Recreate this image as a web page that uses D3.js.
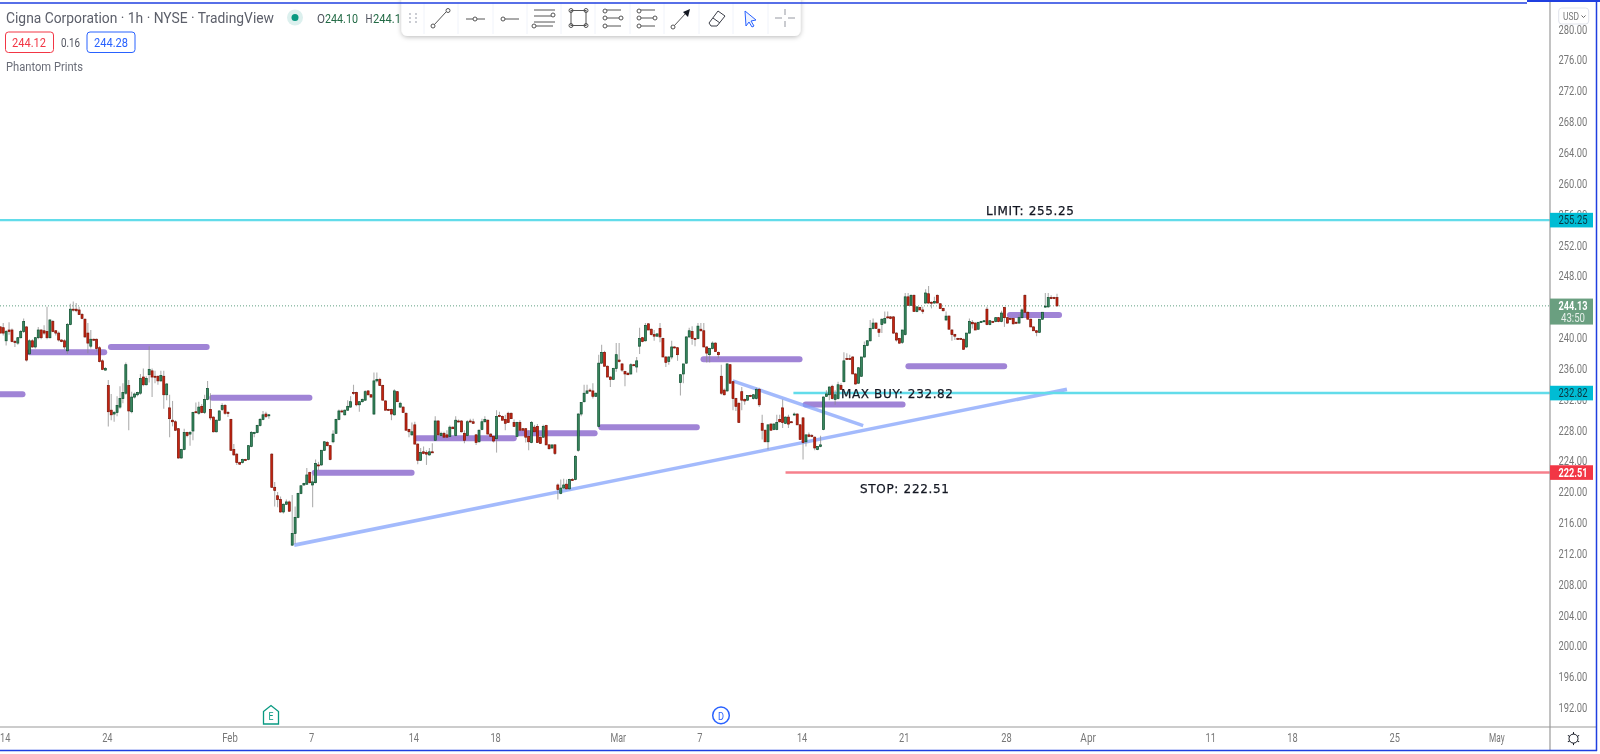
<!DOCTYPE html>
<html>
<head>
<meta charset="utf-8">
<title>Cigna Corporation 1h</title>
<script src="https://cdn.jsdelivr.net/npm/d3@7"></script>
<style>
  html, body { margin: 0; padding: 0; background: #fff; overflow: hidden; }
  svg { display: block; font-family: Roboto, "Liberation Sans", sans-serif; filter: blur(0.3px); }
</style>
</head>
<body>
<svg width="1600" height="754"></svg>
<script>
// open, high, low, close
const janBars = [
[241.4,241.5,240.6,240.6],[241.3,241.9,240.3,240.6],[239.6,241.0,239.0,240.8],[241.0,242.0,240.4,240.8],[241.0,241.2,239.4,239.5],[239.5,239.7,238.8,239.4],[239.3,240.1,239.1,240.0],[240.0,241.0,239.9,240.8],[240.8,242.5,240.6,242.1],[241.4,241.5,236.9,237.1],
[237.9,239.8,237.8,239.6],[239.6,239.8,238.7,238.8],[238.8,240.1,238.6,240.0],[240.0,241.4,239.8,241.0],[241.0,241.1,239.8,240.0],[240.9,241.6,240.4,240.6],[240.8,244.0,239.8,240.0],[240.0,242.4,239.9,242.3],[242.1,242.3,240.7,240.8],[240.9,241.0,240.3,240.6],
[240.6,240.8,239.5,239.7],[239.7,239.8,239.4,239.5],[239.6,239.8,238.5,238.8],[238.3,241.9,237.9,241.7],[241.7,244.4,241.6,243.7],[243.7,244.7,243.4,243.6],[243.7,244.5,243.3,243.5],[243.6,244.0,243.0,243.0],[243.0,243.2,242.4,242.5],[242.4,242.5,240.0,240.1],
[240.6,241.9,238.0,239.3],[238.9,241.0,238.6,239.8],[239.8,239.9,239.6,239.7],[239.8,239.9,238.2,238.6],[238.7,238.9,236.8,236.9],[237.0,237.2,235.8,235.9],[235.8,236.2,235.7,236.0],[233.8,234.5,228.5,230.4],[230.6,232.7,229.3,230.0],[230.1,230.5,229.1,230.3],
[230.3,232.4,229.8,231.2],[231.0,233.7,230.8,232.1],[232.1,234.1,231.5,232.9],[232.8,236.8,232.6,236.5],[233.8,234.5,228.0,230.5],[230.4,233.0,230.2,232.3],[232.3,232.9,232.1,232.7],[232.6,233.0,232.4,232.9],[232.8,235.3,232.6,234.7],[234.9,236.0,233.7,233.9],
[233.9,235.0,233.8,234.7],[235.2,238.9,234.2,235.9],[235.7,236.0,232.3,234.9],[235.0,235.7,234.1,234.9],[235.0,235.1,233.9,234.4],[234.4,235.7,234.3,235.1],[235.0,235.7,230.8,232.6],[232.6,234.1,231.9,234.0],[230.9,232.6,227.1,229.5],[229.3,231.8,228.5,229.1],
[229.1,229.3,227.9,228.0],[228.2,228.3,224.3,224.4],[224.4,225.6,224.3,225.5],[225.5,228.2,225.4,227.7],[227.7,227.8,227.1,227.3],[227.5,227.9,226.0,227.7],[227.9,230.4,226.7,230.3],[230.4,231.6,230.2,230.3],[230.2,231.7,230.0,231.0],[231.1,231.4,230.2,230.3],
[230.3,232.6,230.1,232.0],[232.0,234.4,231.9,233.4],[230.7,232.8,229.3,229.6],[229.7,229.8,227.7,227.8],[227.8,229.4,227.7,229.3],[229.3,230.6,229.2,230.5],[230.7,231.5,230.5,231.2],[231.2,231.4,230.0,230.2]
];
const febBars = [
[230.3,230.5,229.7,230.2],[229.4,229.5,225.3,225.4],[225.5,226.2,224.7,224.8],[224.9,225.0,223.5,223.8],[223.8,223.9,223.5,223.6],[223.8,224.3,223.7,224.2],[224.2,224.3,224.0,224.1],[224.2,226.1,224.1,226.0],[225.9,227.9,225.8,227.7],[227.6,227.8,227.1,227.7],
[227.7,228.7,227.6,228.6],[228.6,229.6,228.5,229.4],[229.4,230.5,229.3,230.0],[230.1,230.4,229.6,229.8],[229.9,230.1,229.5,230.0],[224.9,225.0,220.5,220.6],[220.6,221.3,218.1,220.2],[219.5,220.0,218.0,219.0],[219.0,219.4,217.3,217.4],[217.4,218.5,217.2,218.4],
[218.4,219.0,218.3,218.7],[218.7,218.9,217.4,217.5],[213.1,219.6,213.0,214.6],[214.6,218.1,213.3,216.7],[216.7,219.9,216.6,219.8],[219.8,220.8,219.7,220.8],[220.9,221.2,220.8,221.1],[221.0,223.1,220.9,222.2],[222.5,222.6,221.1,221.2],[220.9,222.2,218.0,221.3],
[221.2,224.2,221.1,223.7],[223.5,223.9,222.8,223.4],[223.5,225.4,223.4,225.4],[225.4,226.6,225.3,226.5],[226.4,226.6,225.9,226.0],[226.0,226.1,224.1,224.2],[226.5,228.0,226.3,227.5],[227.6,229.5,227.5,229.4],[229.4,230.7,229.3,230.5],[230.5,230.7,230.3,230.4],
[230.0,230.7,229.9,230.6],[230.6,231.9,230.5,231.1],[231.0,232.4,230.9,231.7],[232.9,233.9,232.6,232.8],[232.9,233.0,231.1,231.3],[231.3,231.8,230.4,231.7],[231.7,232.1,231.6,232.0],[231.9,233.2,231.8,233.0],[233.1,233.2,232.5,232.6],[232.6,232.7,232.2,232.3],
[230.1,235.5,230.0,234.4],[234.4,235.5,234.2,234.6],[234.6,234.8,233.8,233.8],[233.8,233.9,231.9,231.9],[231.8,231.9,230.6,230.6],[230.7,230.8,230.5,230.6],[230.7,230.8,229.3,230.1],[230.0,233.3,229.9,233.1],[233.0,233.1,231.7,231.7],[231.0,231.7,230.9,231.5],
[231.0,231.1,230.3,230.3],[230.2,230.3,228.0,228.0],[228.1,228.2,227.1,227.8],[227.4,229.0,227.3,227.8],[228.7,229.1,226.2,226.2],[226.2,226.3,223.6,224.1],[224.1,225.7,224.0,225.1],[225.2,225.9,224.9,225.0],[225.1,225.4,223.5,224.9],[224.8,225.7,224.7,225.2],
[225.2,226.3,225.1,225.1],[226.7,229.8,226.6,229.2],[229.2,229.3,227.3,227.4],[227.3,227.8,227.2,227.6],[227.6,227.8,227.0,227.1],[227.4,228.0,227.0,227.1],[227.2,228.6,227.1,228.4],[228.4,228.5,228.2,228.2],[227.3,229.8,227.2,229.3],[229.2,229.4,229.0,229.1],
[229.2,229.3,227.7,227.8],[227.6,228.0,226.3,226.7],[227.3,229.3,227.2,229.1],[229.2,229.5,229.0,229.1],[229.1,229.5,228.8,228.9],[227.4,227.5,226.1,226.4],[226.5,228.1,226.4,228.0],[228.1,229.5,228.0,229.1],[229.1,229.8,229.0,229.4],[229.3,229.4,227.5,227.5],
[227.5,227.6,227.1,227.2],[227.2,227.3,226.4,226.6],[226.9,230.6,225.1,229.8],[229.9,230.4,229.7,229.8],[229.8,229.9,229.3,229.3],[229.4,230.0,228.0,228.9],[230.2,230.4,229.0,229.0],[230.2,230.3,229.5,229.5],[229.0,229.4,228.5,228.5],[227.2,229.1,227.1,229.0],
[229.0,229.3,228.0,228.0],[228.2,228.3,228.0,228.0],[228.2,228.3,226.4,227.1],[227.2,228.0,225.4,226.5],[226.4,229.2,226.3,229.0],[228.4,228.7,227.8,227.8],[228.5,228.8,226.4,226.4],[227.1,227.2,226.2,226.3],[227.1,228.7,227.0,228.5],[228.6,228.7,226.1,226.1],
[226.1,226.2,225.5,225.6],[225.7,226.1,225.6,226.1],[226.1,226.2,224.8,225.0],[220.9,221.1,219.0,220.3],[219.8,221.6,219.7,220.5],[220.5,221.7,220.4,220.9],[221.0,221.6,220.3,220.4],[220.4,221.7,220.3,221.6],[221.6,221.8,221.4,221.5],[221.6,224.8,221.5,224.6],
[225.4,230.2,225.2,230.1],[230.1,231.6,229.8,231.6],[231.7,233.9,231.6,232.8],[232.8,233.9,232.7,233.1],[233.2,233.4,233.0,233.1],[233.1,234.1,232.1,232.4],[232.4,232.9,232.3,232.8],[228.5,237.8,228.4,236.7],[236.7,239.1,236.6,238.1],[238.1,238.3,236.3,236.3]
];
const marBars = [
[236.3,236.4,234.9,234.9],[234.9,235.0,233.6,234.6],[234.6,236.1,234.5,236.0],[236.0,239.3,235.6,237.8],[237.1,239.3,236.8,236.9],[236.6,236.7,235.6,235.8],[235.6,235.7,233.7,235.3],[235.4,235.5,235.2,235.2],[235.3,236.7,235.2,236.5],[236.5,236.6,236.3,236.4],
[236.2,237.5,235.5,237.0],[238.9,241.3,237.9,239.9],[240.0,240.1,239.4,239.5],[239.6,241.9,239.5,241.6],[241.8,241.9,241.0,241.0],[241.1,241.2,240.3,240.4],[240.4,241.0,239.6,240.2],[240.2,240.5,240.1,240.5],[241.2,241.9,239.4,240.1],[239.9,240.0,237.5,237.5],
[237.5,237.6,236.2,236.8],[236.9,237.6,236.5,237.5],[237.5,239.6,237.2,238.8],[238.8,238.9,238.6,238.7],[238.7,238.8,237.0,237.8],[234.2,235.3,232.5,235.2],[235.3,236.6,234.1,236.6],[236.7,240.2,236.6,240.1],[240.1,241.3,240.0,240.9],[240.8,241.5,239.1,239.9],
[239.9,240.0,238.9,239.8],[239.9,241.9,239.8,241.5],[241.1,241.9,240.8,240.9],[240.9,241.9,238.8,238.8],[238.8,238.9,236.8,238.0],[237.8,238.7,236.8,238.6],[238.6,239.5,238.5,239.3],[239.3,239.4,238.2,238.2],[238.1,238.2,237.3,237.8],[235.0,236.5,232.6,232.8],
[233.2,233.4,232.5,232.6],[233.1,236.7,233.0,236.6],[236.5,236.6,234.0,234.1],[234.3,234.4,230.6,232.1],[232.1,232.2,230.5,231.1],[231.5,231.6,229.0,229.0],[233.0,233.6,230.6,231.9],[232.0,232.1,231.3,231.8],[231.9,232.5,231.8,232.5],[232.5,232.6,232.4,232.4],
[232.1,232.7,232.0,232.6],[232.1,233.5,232.0,233.3],[233.3,233.5,231.0,231.3],[228.9,230.0,226.8,228.0],[228.0,228.1,226.5,226.5],[226.5,228.7,225.5,228.7],[228.8,228.9,228.0,228.0],[228.1,228.9,228.0,228.8],[228.1,230.0,228.0,229.0],[229.4,230.0,229.0,229.1],
[230.9,232.0,228.3,229.0],[228.9,229.8,228.8,229.7],[229.7,230.0,228.3,228.8],[229.1,229.2,229.0,229.0],[230.0,230.3,229.9,230.1],[230.1,230.2,228.7,228.7],[228.7,228.8,226.8,226.8],[229.6,229.7,224.2,226.4],[226.5,227.4,225.9,227.4],[227.4,227.7,227.1,227.2],
[227.3,227.5,227.1,227.2],[227.1,227.2,225.4,225.7],[225.5,225.9,225.4,225.9],[225.9,227.3,225.8,226.1],[228.1,232.4,228.0,232.3],[232.4,233.2,232.3,232.7],[232.6,233.7,231.9,233.6],[233.7,233.9,232.0,232.1],[232.0,233.2,231.3,232.6],[232.1,234.3,232.0,233.9],
[233.8,234.1,233.3,233.3],[234.3,238.1,234.2,237.0],[237.3,238.0,237.1,237.2],[237.3,237.8,237.1,237.2],[237.5,237.6,235.3,235.3],[235.3,235.4,233.9,234.0],[234.1,236.2,234.0,236.1],[235.0,237.5,234.9,237.5],[237.5,239.5,237.4,239.0],[239.0,239.7,238.9,239.6],
[239.6,242.3,239.5,241.2],[241.2,242.5,241.1,241.9],[241.9,242.0,241.2,241.2],[241.1,241.2,240.1,240.7],[241.7,242.5,240.6,242.4],[241.9,243.4,241.8,242.5],[242.7,243.4,242.5,242.6],[242.7,242.8,242.4,242.5],[242.7,242.8,240.5,240.6],[240.6,240.7,239.5,239.7],
[239.9,240.0,239.2,239.3],[239.4,241.0,239.2,241.0],[240.4,245.8,240.3,245.3],[245.3,245.8,244.2,244.2],[244.2,245.6,244.1,245.5],[245.5,245.6,243.4,243.4],[243.4,244.0,243.3,244.0],[243.9,244.0,243.6,243.6],[243.6,244.0,243.1,243.4],[244.5,246.3,244.4,245.8],
[245.7,246.7,244.4,244.5],[244.6,244.7,243.8,244.5],[244.5,245.3,244.4,244.7],[245.5,245.6,244.5,244.5],[244.4,244.5,243.8,243.8],[243.8,243.9,243.4,243.5],[242.3,243.4,242.2,242.8],[242.8,242.9,241.1,241.1],[241.0,241.1,239.6,240.4],[240.4,240.5,239.7,240.2],
[239.9,240.0,239.7,239.8],[239.9,240.0,239.7,239.8],[239.8,239.9,238.4,238.5],[238.8,240.6,238.7,240.6],[240.6,242.5,240.5,242.1],[242.0,242.3,241.2,241.8],[241.9,242.0,241.0,241.0],[241.1,242.0,241.0,242.0],[242.0,242.2,241.9,242.1],[242.1,242.3,242.0,242.2],
[243.7,244.0,241.6,241.7],[241.7,242.3,241.6,242.2],[242.1,242.2,242.0,242.0],[242.1,242.7,242.0,242.6],[242.6,242.7,242.0,242.1],[242.1,243.5,242.0,243.2],[243.9,244.0,241.4,242.6],[242.6,242.7,241.8,241.9],[242.5,242.6,242.3,242.4],[242.5,242.6,241.7,241.8],
[242.0,242.1,241.8,241.9],[241.9,243.0,241.8,242.6],[242.6,243.8,242.5,243.6],[245.5,245.6,243.2,243.3],[243.3,243.4,242.4,242.4],[242.4,242.5,241.4,241.4],[241.4,241.5,240.9,240.9],[240.9,241.0,240.2,240.7],[240.7,242.4,240.6,242.4],[242.4,243.3,242.3,243.3],
[244.0,245.8,243.9,244.1],[244.0,245.8,243.9,245.2],[245.2,245.5,245.0,245.1],[245.2,245.3,245.0,245.1],[245.2,245.7,244.0,244.13]
];
const bars = [...janBars, ...febBars, ...marBars];

// [first bar, last bar, price]
const supplyZones = [
  [-1, 7.6, 232.66], [10, 35.6, 238.1], [37.9, 70.7, 238.8], [72.6, 105.9, 232.2],
  [107.7, 140.9, 222.5], [142.7, 175.9, 226.95], [177.7, 203.6, 227.6], [205.9, 238.6, 228.4],
  [240.9, 273.8, 237.2], [275.9, 309.1, 231.35], [311.1, 343.9, 236.3], [345.9, 362.7, 242.95]
];
// [bar, price, bar, price]
const trendLines = [
  [100.7, 213.1, 365.4, 233.3],
  [250.9, 234.4, 295.6, 228.6]
];
const limitPrice = 255.25, maxBuyPrice = 232.82, stopPrice = 222.51, lastPrice = 244.13;
const maxBuyStart = 271.7, stopStart = 269;

// 244.00 sits fully under the last price badge
const priceTicks = d3.range(192, 281, 4).filter(d => d !== 244);
const timeTickBars = [1.5, 36.5, 78.5, 106.5, 141.5, 169.5, 211.5, 239.5, 274.5, 309.5, 344.5, 372.5, 414.5, 442.5, 477.5, 512.5];
const timeLabels = ["14", "24", "Feb", "7", "14", "18", "Mar", "7", "14", "21", "28", "Apr", "11", "18", "25", "May"];

const svg = d3.select("svg");
const w = 1600, h = 754;
const axisX = 1550, axisY = 727;

const x = d3.scaleLinear().domain([0, 362]).range([0.3, 1057]);
const y = d3.scaleLinear().domain([192, 280]).range([707.8, 29.3]);

svg.append("defs").append("clipPath").attr("id", "plot")
  .append("rect").attr("width", axisX).attr("height", axisY);
const shadow = svg.select("defs").append("filter").attr("id", "shadow")
  .attr("x", "-5%").attr("y", "-30%").attr("width", "110%").attr("height", "170%");
shadow.append("feDropShadow").attr("dx", 0).attr("dy", 1).attr("stdDeviation", 2.5)
  .attr("flood-color", "#000").attr("flood-opacity", 0.28);

const plot = svg.append("g").attr("clip-path", "url(#plot)");

// last price dotted line
plot.append("line")
  .attr("x1", 0).attr("x2", axisX).attr("y1", y(lastPrice)).attr("y2", y(lastPrice))
  .attr("stroke", "#5f9f80").attr("stroke-width", 1).attr("stroke-dasharray", "1 2");

// purple zones
plot.selectAll(".zone").data(supplyZones).enter().append("line")
  .attr("class", "zone")
  .attr("x1", d => x(d[0])).attr("x2", d => x(d[1]))
  .attr("y1", d => y(d[2])).attr("y2", d => y(d[2]))
  .attr("stroke", "#a084d6").attr("stroke-width", 6).attr("stroke-linecap", "round");

// trend lines
plot.selectAll(".trend").data(trendLines).enter().append("line")
  .attr("class", "trend")
  .attr("x1", d => x(d[0])).attr("y1", d => y(d[1]))
  .attr("x2", d => x(d[2])).attr("y2", d => y(d[3]))
  .attr("stroke", "#7f9ffb").attr("stroke-opacity", 0.72).attr("stroke-width", 3.6);

// price levels
const levels = [
  { from: x.invert(0), price: limitPrice, color: "#62dcea" },
  { from: maxBuyStart, price: maxBuyPrice, color: "#62dcea" },
  { from: stopStart, price: stopPrice, color: "#f6808c" }
];
plot.selectAll(".level").data(levels).enter().append("line")
  .attr("class", "level")
  .attr("x1", d => x(d.from)).attr("x2", axisX)
  .attr("y1", d => y(d.price)).attr("y2", d => y(d.price))
  .attr("stroke", d => d.color).attr("stroke-width", 2.4);

// candles
const candle = plot.selectAll(".candle").data(bars).enter().append("g").attr("class", "candle");
candle.append("line")
  .attr("x1", (d, i) => x(i)).attr("x2", (d, i) => x(i))
  .attr("y1", d => y(d[1])).attr("y2", d => y(d[2]))
  .attr("stroke", "#8d8d8d").attr("stroke-width", 1.1).attr("opacity", 0.7);
candle.append("rect")
  .attr("x", (d, i) => x(i) - 1)
  .attr("y", d => y(Math.max(d[0], d[3])))
  .attr("width", 2)
  .attr("height", d => Math.max(1, Math.abs(y(d[0]) - y(d[3]))))
  .attr("fill", d => d[3] >= d[0] ? "#39875f" : "#c62410")
  .attr("stroke", d => d[3] >= d[0] ? "#0c4f2e" : "#7d1206")
  .attr("stroke-width", 0.7);

// level notes
const notes = [
  { text: "LIMIT: 255.25", x: 986, y: 215, len: 88 },
  { text: "MAX BUY: 232.82", x: 841, y: 398, len: 112 },
  { text: "STOP: 222.51", x: 860, y: 493, len: 89 }
];
svg.selectAll(".note").data(notes).enter().append("text")
  .attr("class", "note")
  .attr("x", d => d.x).attr("y", d => d.y)
  .attr("textLength", d => d.len).attr("lengthAdjust", "spacing")
  .style("font-family", "'DejaVu Sans'").style("font-size", "12px")
  .attr("fill", "#131722").attr("stroke", "#131722").attr("stroke-width", 0.25)
  .text(d => d.text);

// axes
const yAxis = svg.append("g")
  .attr("transform", `translate(${axisX}, 0)`)
  .call(d3.axisRight(y).tickValues(priceTicks).tickFormat(d3.format(".2f")).tickSize(0).tickPadding(8.5));
yAxis.select(".domain").remove();
yAxis.selectAll("text")
  .attr("textLength", 28.7).attr("lengthAdjust", "spacingAndGlyphs")
  .style("font-size", "12px").style("font-family", "Roboto").attr("fill", "#777");

const xAxis = svg.append("g")
  .attr("transform", `translate(0, ${axisY})`)
  .call(d3.axisBottom(x).tickValues(timeTickBars).tickFormat((d, i) => timeLabels[i]).tickSize(0).tickPadding(6));
xAxis.select(".domain").remove();
xAxis.selectAll("text")
  .attr("textLength", (d, i) => timeLabels[i].length * 5.2).attr("lengthAdjust", "spacingAndGlyphs")
  .style("font-size", "12px").style("font-family", "Roboto").attr("fill", "#777");

svg.append("line").attr("x1", axisX).attr("x2", axisX).attr("y1", 0).attr("y2", 751)
  .attr("stroke", "#9a9a9a").attr("stroke-width", 1.2);
svg.append("line").attr("x1", 0).attr("x2", 1596).attr("y1", axisY).attr("y2", axisY)
  .attr("stroke", "#9a9a9a").attr("stroke-width", 1.2);

// price badges
const badges = [
  { price: limitPrice, fill: "#00bcd4", color: "#0b3640" },
  { price: maxBuyPrice, fill: "#00bcd4", color: "#0b3640" },
  { price: stopPrice, fill: "#f23645", color: "#fff" }
];
const badge = svg.selectAll(".badge").data(badges).enter().append("g").attr("class", "badge");
badge.append("rect").attr("x", axisX).attr("y", d => y(d.price) - 7.3).attr("width", 43).attr("height", 14.6).attr("fill", d => d.fill);
badge.append("text").attr("x", 1573).attr("y", d => y(d.price) + 4.2)
  .attr("text-anchor", "middle").attr("fill", d => d.color)
  .attr("textLength", 29).attr("lengthAdjust", "spacingAndGlyphs")
  .style("font-size", "12px").style("font-weight", d => d.color === "#fff" ? 700 : 400)
  .text(d => d3.format(".2f")(d.price));

svg.append("rect").attr("x", axisX).attr("y", y(lastPrice) - 7.3).attr("width", 43).attr("height", 26).attr("fill", "#6a9f80");
svg.append("text").attr("x", 1573).attr("y", y(lastPrice) + 4.2).attr("text-anchor", "middle").attr("fill", "#fff")
  .attr("textLength", 29).attr("lengthAdjust", "spacingAndGlyphs")
  .style("font-size", "12px").style("font-weight", 700).text(lastPrice.toFixed(2));
svg.append("text").attr("x", 1573).attr("y", y(lastPrice) + 16).attr("text-anchor", "middle").attr("fill", "#e6efe9")
  .attr("textLength", 24).attr("lengthAdjust", "spacingAndGlyphs")
  .style("font-size", "12px").text("43:50");

// currency button
svg.append("rect").attr("x", 1558.7).attr("y", 8).attr("width", 30).attr("height", 16).attr("rx", 3)
  .attr("fill", "#fff").attr("stroke", "#e0e3eb");
svg.append("text").attr("x", 1563).attr("y", 20).attr("fill", "#777")
  .attr("textLength", 16).attr("lengthAdjust", "spacingAndGlyphs").style("font-size", "11px").text("USD");
svg.append("path").attr("d", "M1581.5 15.5l2 2 2-2").attr("fill", "none").attr("stroke", "#666");

// header
function label(text, tx, ty, len, size, color) {
  return svg.append("text").attr("x", tx).attr("y", ty).attr("fill", color)
    .attr("textLength", len).attr("lengthAdjust", "spacingAndGlyphs")
    .style("font-size", size + "px").text(text);
}
label("Cigna Corporation · 1h · NYSE · TradingView", 6, 23, 268, 15.5, "#5d606b");
svg.append("circle").attr("cx", 295).attr("cy", 17.5).attr("r", 8).attr("fill", "#dcf0ee");
svg.append("circle").attr("cx", 295).attr("cy", 17.5).attr("r", 3.5).attr("fill", "#089981");
label("O", 317, 22.5, 8, 13.5, "#50535e");
label("244.10", 325, 22.5, 33, 13.5, "#226a45");
label("H", 365.5, 22.5, 7, 13.5, "#50535e");
label("244.1", 373, 22.5, 28, 13.5, "#226a45");

svg.append("rect").attr("x", 5.5).attr("y", 32).attr("width", 48).attr("height", 20.5).attr("rx", 3)
  .attr("fill", "#fff").attr("stroke", "#f23645");
label("244.12", 12, 47, 34, 13.5, "#f23645");
label("0.16", 61, 46.5, 19, 12, "#50535e");
svg.append("rect").attr("x", 87).attr("y", 32).attr("width", 48).attr("height", 20.5).attr("rx", 3)
  .attr("fill", "#fff").attr("stroke", "#2962ff");
label("244.28", 94, 47, 34, 13.5, "#2962ff");
label("Phantom Prints", 6, 70.5, 77, 12.5, "#6a6d78");

// drawing toolbar
svg.append("rect").attr("x", 401.5).attr("y", -6).attr("width", 399).attr("height", 42).attr("rx", 6)
  .attr("fill", "#fff").attr("filter", "url(#shadow)");
const tb = svg.append("g").attr("fill", "none").attr("stroke", "#555").attr("stroke-width", 1);
const toolGap = [424, 458, 493, 527, 561, 595, 630, 664, 699, 733, 768];
tb.selectAll(".sep").data(toolGap).enter().append("line")
  .attr("x1", d => d).attr("x2", d => d).attr("y1", 2).attr("y2", 34).attr("stroke", "#f0f3fa");
tb.selectAll(".grip").data(d3.cross([410, 416], [14, 18, 22])).enter().append("circle")
  .attr("cx", d => d[0]).attr("cy", d => d[1]).attr("r", 0.9).attr("fill", "#b2b5be").attr("stroke", "none");
function knob(cx, cy, g = tb) {
  g.append("circle").attr("cx", cx).attr("cy", cy).attr("r", 2).attr("fill", "#fff");
}
function seg(x1, y1, x2, y2, g = tb) {
  g.append("line").attr("x1", x1).attr("y1", y1).attr("x2", x2).attr("y2", y2);
}
// trend line
seg(434, 25, 446, 12); knob(433, 26); knob(448, 10.5);
// horizontal line, ray
seg(466, 19, 485, 19); knob(475, 19);
seg(502, 19, 519, 19); knob(503, 19);
// parallel levels
seg(534, 10, 555, 10); seg(534, 16, 553, 16); seg(534, 22, 555, 22); seg(536, 26, 553, 26); knob(553, 15); knob(534, 26);
// rectangle
svg.append("rect").attr("x", 571).attr("y", 10.5).attr("width", 15).attr("height", 15).attr("fill", "none").attr("stroke", "#555");
[[571, 10.5], [586, 10.5], [571, 25.5], [586, 25.5]].forEach(p => knob(p[0], p[1]));
// fib style tools
[604, 638].forEach(px => {
  seg(px, 10, px + 17, 10); seg(px, 18, px + 17, 18); seg(px, 26, px + 17, 26);
  knob(px + 1, 11); knob(px + 17, 18); knob(px + 1, 26); knob(px + 1, 18);
});
// arrow
seg(674, 26, 686, 13); knob(673, 27);
svg.append("path").attr("d", "M690 9l-2 8-5-5z").attr("fill", "#131722");
// eraser
svg.append("path").attr("d", "M709 23l9-12 7 5-8 10h-6zM713 18l7 5").attr("fill", "none").attr("stroke", "#3a3d47");
// cursor
svg.append("path").attr("d", "M745 11l1 15 3-4 3 5 2-1-3-5 5-1z").attr("fill", "#eef3ff").attr("stroke", "#2962ff");
// cross
const cross = svg.append("g").attr("stroke", "#9598a1");
seg(775, 18, 782, 18, cross); seg(788, 18, 795, 18, cross); seg(785, 9, 785, 15, cross); seg(785, 21, 785, 27, cross);

// earnings and dividend marks
svg.append("path").attr("d", "M263.5 711.5l7.5-6 7.5 6v12.5h-15z").attr("fill", "#fff").attr("stroke", "#089981").attr("stroke-width", 1.3);
svg.append("text").attr("x", 271).attr("y", 720).attr("text-anchor", "middle").attr("fill", "#089981")
  .style("font-size", "11px").attr("textLength", 5).attr("lengthAdjust", "spacingAndGlyphs").text("E");
svg.append("circle").attr("cx", 721).attr("cy", 715.4).attr("r", 8.3).attr("fill", "#fff").attr("stroke", "#2962ff").attr("stroke-width", 1.5);
svg.append("text").attr("x", 721).attr("y", 719.5).attr("text-anchor", "middle").attr("fill", "#2962ff")
  .style("font-size", "11px").attr("textLength", 6).attr("lengthAdjust", "spacingAndGlyphs").text("D");

// settings gear
const gear = svg.append("g").attr("transform", "translate(1573.5, 738.6)").attr("fill", "none").attr("stroke", "#131722");
gear.append("circle").attr("r", 4.5);
gear.selectAll("line").data(d3.range(0, 360, 60)).enter().append("line")
  .attr("y1", -4.5).attr("y2", -6.5).attr("transform", d => `rotate(${d})`);

// screen capture border
const blue = "#1f3fe0";
svg.append("line").attr("x1", 0).attr("x2", 1527).attr("y1", 3).attr("y2", 3).attr("stroke", blue).attr("stroke-width", 1.5);
svg.append("line").attr("x1", 1527).attr("x2", w).attr("y1", 1).attr("y2", 1).attr("stroke", blue).attr("stroke-width", 2);
svg.append("line").attr("x1", 1596.5).attr("x2", 1596.5).attr("y1", 1).attr("y2", 751).attr("stroke", blue).attr("stroke-width", 1.5);
svg.append("line").attr("x1", 0).attr("x2", 1597).attr("y1", 750.5).attr("y2", 750.5).attr("stroke", blue).attr("stroke-width", 1.5);
</script>
</body>
</html>
